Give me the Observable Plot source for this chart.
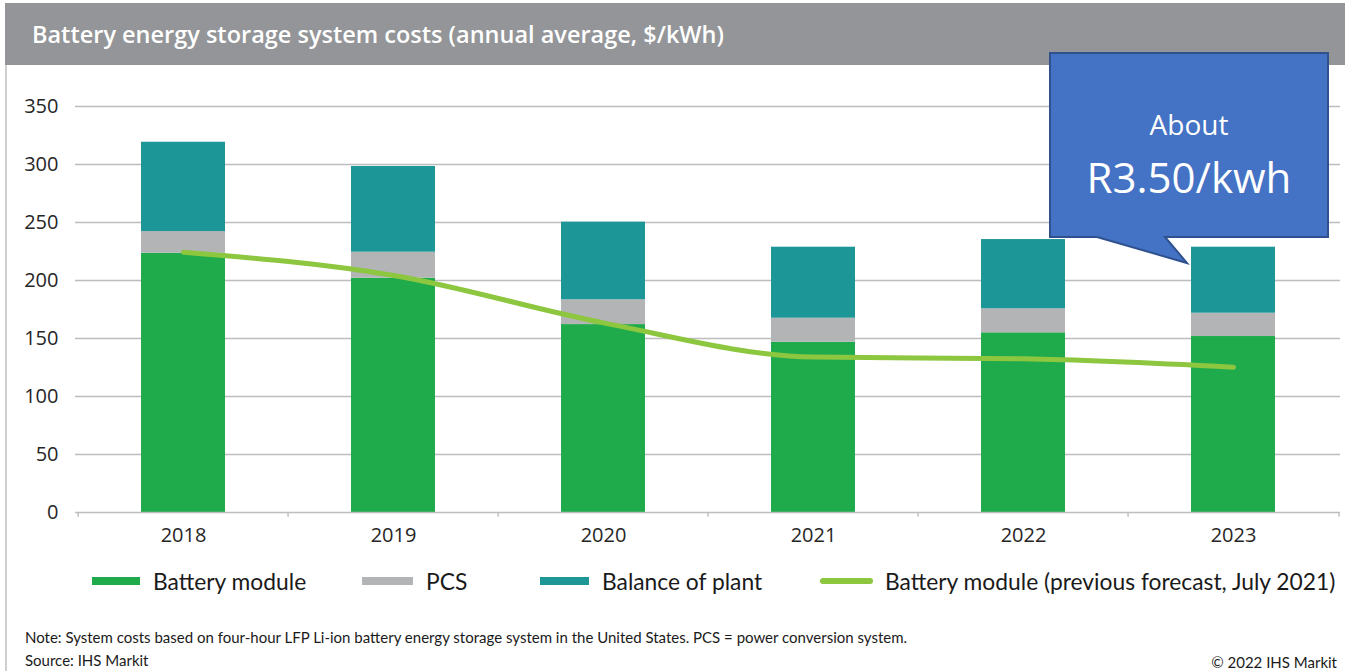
<!DOCTYPE html>
<html>
<head>
<meta charset="utf-8">
<script src="https://cdn.jsdelivr.net/npm/d3@7"></script>
<script src="https://cdn.jsdelivr.net/npm/@observablehq/plot@0.6"></script>
<style>
  html, body { margin: 0; padding: 0; background: #fff; }
  #wrap { position: relative; width: 1345px; height: 671px; overflow: hidden; font-family: Lato, "Open Sans", sans-serif; }
  #titlebar { position: absolute; left: 5px; top: 3px; width: 1340px; height: 62px; background: #939598; }
  #title { position: absolute; left: 27px; top: 0; line-height: 62px; color: #fff; font-family: "Open Sans", sans-serif; font-size: 23.5px; font-weight: 600; white-space: nowrap; }
  #border { position: absolute; left: 5px; top: 65px; width: 1.5px; height: 606px; background: #cfcfcf; }
  #chart { position: absolute; left: 0; top: 65px; }
  .leg { position: absolute; top: 568px; height: 26px; line-height: 26px; font-size: 22.8px; color: #1a1a1a; white-space: nowrap; }
  .sw { position: absolute; top: 577px; height: 8px; }
  .note { position: absolute; font-size: 15px; color: #1a1a1a; white-space: nowrap; line-height: 18px; }
  #callout { position: absolute; left: 0; top: 0; }
</style>
</head>
<body>
<div id="wrap">
  <div id="titlebar"><div id="title"></div></div>
  <div id="border"></div>
  <div id="chart"></div>
  <div id="legend"></div>
  <div class="note" id="note" style="left:25px; top:628px;"></div>
  <div class="note" id="source" style="left:25px; top:651px;"></div>
  <div class="note" id="copy" style="right:8px; top:653px;"></div>
  <svg id="callout" width="1345" height="671"></svg>
</div>
<script>
// ---- data ----
const years = ["2018", "2019", "2020", "2021", "2022", "2023"];
const batteryModule = [223.5, 202, 162, 146.8, 154.9, 151.7];
const pcs = [18.7, 22.4, 21.4, 20.7, 20.7, 20.1];
const balanceOfPlant = [77, 73.9, 66.9, 61.2, 59.7, 56.9];
const previousForecast = [224.4, 204.3, 163.5, 134, 132.5, 125.3];
const seriesNames = ["Battery module", "PCS", "Balance of plant"];
const lineName = "Battery module (previous forecast, July 2021)";
const yTicks = [0, 50, 100, 150, 200, 250, 300, 350];
const titleText = "Battery energy storage system costs (annual average, $/kWh)";
const noteText = "Note: System costs based on four-hour LFP Li-ion battery energy storage system in the United States. PCS = power conversion system.";
const sourceText = "Source: IHS Markit";
const copyText = "© 2022 IHS Markit";
const calloutLines = ["About", "R3.50/kwh"];

const colors = ["#1fab4c", "#b3b4b6", "#1c9696"];
const lineColor = "#8dc63f";

// ---- build tables ----
const seriesValues = [batteryModule, pcs, balanceOfPlant];
const stacked = [];
years.forEach((yr, i) => {
  seriesNames.forEach((s, k) => stacked.push({year: yr, series: s, value: seriesValues[k][i]}));
});
const forecast = years.map((yr, i) => ({year: yr, value: previousForecast[i]}));

const W = 1345, H = 487, mL = 75, mR = 5, mT = 41, mB = 40;
const step = (W - mL - mR) / years.length;

const chart = Plot.plot({
  width: W, height: H,
  marginLeft: mL, marginRight: mR, marginTop: mT, marginBottom: mB,
  style: {fontFamily: "'Open Sans', sans-serif", fontSize: "20px", color: "#262626", background: "transparent", overflow: "visible"},
  x: {domain: years, type: "band", paddingInner: 0.6, paddingOuter: 0.3, align: 0.5, label: null},
  y: {domain: [0, 350], label: null},
  color: {domain: seriesNames, range: colors},
  marks: [
    Plot.ruleY(yTicks.filter(d => d > 0), {stroke: "#bdbdbd", strokeWidth: 1.4}),
    Plot.barY(stacked, {x: "year", y: "value", fill: "series", order: seriesNames}),
    Plot.line(forecast, {x: "year", y: "value", stroke: lineColor, strokeWidth: 5, curve: "monotone-x", strokeLinecap: "round"}),
    Plot.ruleY([0], {stroke: "#bdbdbd", strokeWidth: 1.4}),
    Plot.ruleX(years, {x: d => d, y1: 0, y2: -4, dx: -step / 2, stroke: "#bdbdbd", strokeWidth: 1.4}),
    Plot.ruleX([years[years.length - 1]], {x: d => d, y1: 0, y2: -4, dx: step / 2, stroke: "#bdbdbd", strokeWidth: 1.4}),
    Plot.axisY({ticks: yTicks, tickSize: 0, tickPadding: 17, fontSize: 20, tickFormat: d => String(d)}),
    Plot.axisX({tickSize: 0, tickPadding: 15, fontSize: 20})
  ]
});
document.getElementById("chart").appendChild(chart);

// ---- title & notes ----
document.getElementById("title").textContent = titleText;
document.getElementById("note").textContent = noteText;
document.getElementById("source").textContent = sourceText;
document.getElementById("copy").textContent = copyText;

// ---- legend ----
const legend = document.getElementById("legend");
const legItems = [
  {name: seriesNames[0], sw: 92, swW: 48, tx: 153, color: colors[0], type: "bar"},
  {name: seriesNames[1], sw: 362, swW: 51, tx: 426, color: colors[1], type: "bar"},
  {name: seriesNames[2], sw: 540, swW: 49, tx: 602, color: colors[2], type: "bar"},
  {name: lineName, sw: 820, swW: 53, tx: 885, color: lineColor, type: "line"}
];
legItems.forEach(it => {
  const s = document.createElement("div");
  s.className = "sw";
  s.style.left = it.sw + "px";
  s.style.width = it.swW + "px";
  s.style.background = it.color;
  if (it.type === "line") { s.style.height = "6px"; s.style.top = "578px"; s.style.borderRadius = "3px"; }
  legend.appendChild(s);
  const t = document.createElement("div");
  t.className = "leg";
  t.style.left = it.tx + "px";
  t.textContent = it.name;
  legend.appendChild(t);
});

// ---- callout ----
const co = d3.select("#callout");
co.append("path")
  .attr("d", "M1050,53 H1328 V237 H1165 L1187,263 L1097,237 H1050 Z")
  .attr("fill", "#4472c4").attr("stroke", "#2f528f").attr("stroke-width", 2).attr("stroke-linejoin", "miter");
co.append("text").attr("x", 1189).attr("y", 124).attr("text-anchor", "middle").attr("dominant-baseline", "central")
  .attr("fill", "#fff").attr("font-family", "'Open Sans', sans-serif").attr("font-size", 28).text(calloutLines[0]);
co.append("text").attr("x", 1189).attr("y", 176).attr("text-anchor", "middle").attr("dominant-baseline", "central")
  .attr("fill", "#fff").attr("font-family", "'Open Sans', sans-serif").attr("font-size", 42).text(calloutLines[1]);
</script>
</body>
</html>
